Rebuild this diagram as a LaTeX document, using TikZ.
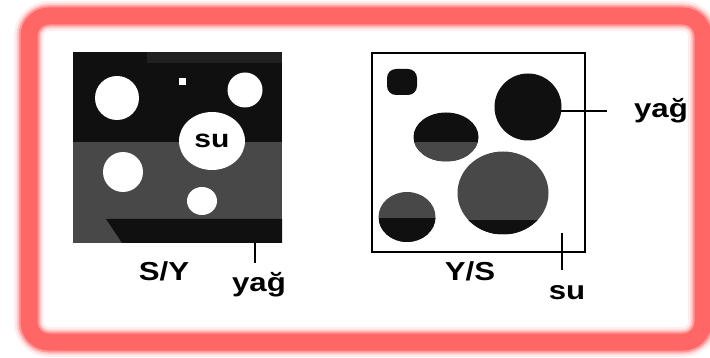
\documentclass[tikz,border=0pt]{standalone}
\usepackage{fontspec}
\usepackage{graphicx}
\setmainfont{Liberation Sans}
\usetikzlibrary{calc,shapes.geometric}

\definecolor{framered}{RGB}{255,102,102}
\definecolor{oilblack}{RGB}{16,16,16}
\definecolor{oilgray}{RGB}{72,72,72}
\definecolor{topgray}{RGB}{32,32,32}

% horizontally stretched label text
\newcommand{\widetext}[1]{\scalebox{1.2}[1]{#1}}

\begin{document}
\begin{tikzpicture}[x=1pt,y=-1pt,
  txt/.style={font=\bfseries\fontsize{26}{26}\selectfont, inner sep=0pt, anchor=base},
  drop/.style={circle, inner sep=0pt, draw=none},
  blob/.style={ellipse, inner sep=0pt, draw=none},
  leader/.style={draw=black, line width=1.4pt},
  lowerfill/.style 2 args={path picture={
    \fill[#1] ($(path picture bounding box.south west)!#2!(path picture bounding box.north west)$)
      rectangle (path picture bounding box.south east);}},
  rim/.style={framered, rounded corners=20pt},
]
\useasboundingbox (0,0) rectangle (710,358);

% soft red frame
\draw[rim, line width=30pt, opacity=0.12] (29,16) rectangle (703,342);
\draw[rim, line width=25pt, opacity=0.25] (29,16) rectangle (703,342);
\draw[rim, line width=21pt, opacity=0.5] (29,16) rectangle (703,342);
\draw[rim, line width=17pt] (29,16) rectangle (703,342);

% ---------- water-in-oil panel (S/Y) ----------
\fill[oilgray] (73,52) rectangle (282,243);
\fill[oilblack] (73,52) rectangle (282,142);
\fill[topgray] (147,52) rectangle (282,63);
\fill[oilblack] (106,219) -- (282,219) -- (282,243) -- (122,243) -- cycle;

\node[drop, fill=white, minimum size=44pt] (w1) at (117,98) {};
\node[rectangle, fill=white, inner sep=0pt, minimum size=7pt] (w2) at (182,82) {};
\node[drop, fill=white, minimum size=35pt] (w3) at (245,90) {};
\node[blob, fill=white, minimum width=66pt, minimum height=58pt] (w4) at (212,141) {};
\node[font=\bfseries\fontsize{25}{25}\selectfont, inner sep=0pt] (su1) at (w4) {\scalebox{1.2}[1]{su}};
\node[drop, fill=white, minimum size=40pt] (w5) at (123,172) {};
\node[blob, fill=white, minimum width=30pt, minimum height=28pt] (w6) at (202,201) {};

\node[txt] (sy) at (164,280) {\widetext{S/Y}};
\node[txt] (yag1) at (259,291) {\widetext{yağ}};
\coordinate (t1a) at (255,243);
\coordinate (t1b) at (255,263);
\draw[leader] (t1a) -- (t1b);

% ---------- oil-in-water panel (Y/S) ----------
\node[draw=black, line width=2.8pt, fill=white, inner sep=0pt,
      minimum width=213pt, minimum height=199pt] (boxR) at (478.5,152.5) {};

\node[rectangle, rounded corners=9pt, fill=oilblack, inner sep=0pt,
      minimum width=30pt, minimum height=26pt] (o1) at (402,82) {};
\node[drop, fill=oilblack, minimum size=67pt] (o2) at (528,107) {};
\node[blob, fill=oilblack, lowerfill={oilgray}{0.39},
      minimum width=65pt, minimum height=49pt] (o3) at (446,137) {};
\node[blob, fill=oilgray, lowerfill={oilblack}{0.18},
      minimum width=91pt, minimum height=83pt] (o4) at (503,193) {};
\node[blob, fill=oilgray, lowerfill={oilblack}{0.48},
      minimum width=57pt, minimum height=50pt] (o5) at (407,217) {};

\coordinate (t2a) at (561,111);
\coordinate (t2b) at (607,111);
\draw[leader] (t2a) -- (t2b);
\node[txt] (yag2) at (661,118) {\widetext{yağ}};

\coordinate (t3a) at (562,233);
\coordinate (t3b) at (562,270);
\draw[leader] (t3a) -- (t3b);
\node[txt] (sy2) at (470,280) {\widetext{Y/S}};
\node[txt] (su2) at (567,300) {\widetext{su}};
\end{tikzpicture}
\end{document}
